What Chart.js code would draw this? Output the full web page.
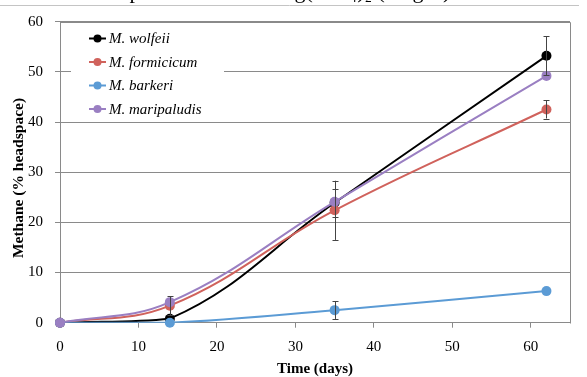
<!DOCTYPE html>
<html><head><meta charset="utf-8">
<script src="https://cdn.jsdelivr.net/npm/chart.js@4.4.0/dist/chart.umd.min.js"></script>
<style>html,body{margin:0;padding:0;background:#fff;overflow:hidden}#wrap{width:587px;height:377px;position:relative}</style>
</head><body><div id="wrap"><canvas id="c" width="587" height="377"></canvas></div>
<script>
const days = [0, 14, 35, 62];
const seriesNames = ['M. wolfeii', 'M. formicicum', 'M. barkeri', 'M. maripaludis'];
const wolfeii = [0, 0.8, 23.9, 53.2];
const formicicum = [0, 3.4, 22.4, 42.5];
const barkeri = [0, 0, 2.5, 6.3];
const maripaludis = [0, 4.1, 24.1, 49.2];
const wolfeiiErr = [0, 0, 2.8, 3.9];
const formicicumErr = [0, 1.9, 5.9, 1.8];
const barkeriErr = [0, 0, 1.75, 0];
const maripaludisErr = [0, 0, 0, 0];
const xTicks = [0, 10, 20, 30, 40, 50, 60];
const yTicks = [0, 10, 20, 30, 40, 50, 60];
const xTitle = 'Time (days)';
const yTitle = 'Methane (% headspace)   ';
const chartTitle = 'Methane production with Mg(ClO\u2084)\u2082 (10 g/L)';

const seriesValues = [wolfeii, formicicum, barkeri, maripaludis];
const seriesErrors = [wolfeiiErr, formicicumErr, barkeriErr, maripaludisErr];
const colors = ['#000000', '#d0625c', '#5b9bd5', '#9a7fc2'];
const SERIF = '"Liberation Serif", "Times New Roman", serif';

const datasets = [];
seriesValues.forEach((vals, i) => {
  const pts = days.map((d, k) => ({x: d, y: vals[k]}));
  datasets.push({
    label: seriesNames[i], data: pts, showLine: true, tension: 0.4,
    borderColor: colors[i], borderWidth: 2, pointRadius: 0, fill: false,
    clip: 0, order: 20 - 2 * i
  });
  datasets.push({
    label: seriesNames[i] + ' points', data: pts, showLine: false,
    pointRadius: 5, pointBackgroundColor: colors[i], pointBorderColor: colors[i],
    pointBorderWidth: 0, clip: false, order: 19 - 2 * i
  });
});

const decor = {
  id: 'decor',
  afterDatasetsDraw(chart) {
    const ctx = chart.ctx, xs = chart.scales.x, ys = chart.scales.y, a = chart.chartArea;
    ctx.save();
    ctx.strokeStyle = '#8a8a8a'; ctx.lineWidth = 1;
    ctx.beginPath();
    ctx.moveTo(Math.round(a.left) + 0.5, Math.round(a.top) + 0.5);
    ctx.lineTo(Math.round(a.right) + 0.5, Math.round(a.top) + 0.5);
    ctx.lineTo(Math.round(a.right) + 0.5, Math.round(a.bottom) + 0.5);
    ctx.stroke();
    ctx.strokeStyle = '#444'; ctx.lineWidth = 1;
    seriesValues.forEach((vals, i) => {
      vals.forEach((v, k) => {
        const e = seriesErrors[i][k];
        if (!e) return;
        const x = Math.round(xs.getPixelForValue(days[k])) + 0.5;
        const y1 = ys.getPixelForValue(v + e), y2 = ys.getPixelForValue(v - e);
        ctx.beginPath();
        ctx.moveTo(x, y1); ctx.lineTo(x, y2);
        ctx.moveTo(x - 3, Math.round(y1) + 0.5); ctx.lineTo(x + 3, Math.round(y1) + 0.5);
        ctx.moveTo(x - 3, Math.round(y2) + 0.5); ctx.lineTo(x + 3, Math.round(y2) + 0.5);
        ctx.stroke();
      });
    });
    ctx.fillStyle = '#fff';
    ctx.fillRect(71, 25, 153, 92);
    const rows = [38.5, 62, 85.5, 109];
    ctx.font = 'italic 15px ' + SERIF;
    ctx.textBaseline = 'middle'; ctx.textAlign = 'left';
    seriesNames.forEach((n, i) => {
      const y = rows[i];
      ctx.strokeStyle = colors[i]; ctx.lineWidth = 2;
      ctx.beginPath(); ctx.moveTo(89, y); ctx.lineTo(106, y); ctx.stroke();
      ctx.fillStyle = colors[i];
      ctx.beginPath(); ctx.arc(97.5, y, 4, 0, Math.PI * 2); ctx.fill();
      ctx.fillStyle = '#000';
      ctx.fillText(n, 109, y + 1);
    });
    ctx.restore();
  },
  afterDraw(chart) {
    const ctx = chart.ctx;
    ctx.save();
    ctx.strokeStyle = '#c4c4c4'; ctx.lineWidth = 1;
    ctx.beginPath(); ctx.moveTo(0, 5.5); ctx.lineTo(579, 5.5); ctx.stroke();
    ctx.font = '22px ' + SERIF; ctx.fillStyle = '#000';
    ctx.textAlign = 'left'; ctx.textBaseline = 'alphabetic';
    ctx.fillText(chartTitle, 47, -2);
    ctx.restore();
  }
};

new Chart(document.getElementById('c'), {
  type: 'scatter',
  data: {datasets},
  options: {
    responsive: false, animation: false,
    layout: {padding: {top: 21.7, right: 17, left: 0, bottom: 0}},
    plugins: {legend: {display: false}, tooltip: {enabled: false}},
    scales: {
      x: {
        type: 'linear', min: 0, max: 65,
        afterBuildTicks: s => { s.ticks = xTicks.map(v => ({value: v})); },
        afterFit: s => { s.height = 54.3; },
        grid: {drawOnChartArea: false, drawTicks: true, tickLength: 5, color: '#8a8a8a'},
        border: {display: true, color: '#8a8a8a', width: 1},
        ticks: {font: {family: SERIF, size: 15}, color: '#000', padding: 10, maxRotation: 0},
        title: {display: true, text: xTitle, font: {family: SERIF, size: 15, weight: 'bold', lineHeight: 1}, color: '#000', padding: {top: 0, bottom: 0}}
      },
      y: {
        type: 'linear', min: 0, max: 60,
        afterBuildTicks: s => { s.ticks = yTicks.map(v => ({value: v})); },
        afterFit: s => { s.width = 60; },
        grid: {drawOnChartArea: true, drawTicks: true, tickLength: 5, color: '#8a8a8a'},
        border: {display: true, color: '#8a8a8a', width: 1},
        ticks: {font: {family: SERIF, size: 15}, color: '#000', padding: 12},
        title: {display: true, text: yTitle, font: {family: SERIF, size: 15.5, weight: 'bold', lineHeight: 1.2}, color: '#000', padding: {top: 10, bottom: 0}}
      }
    }
  },
  plugins: [decor]
});
</script>
</body></html>
